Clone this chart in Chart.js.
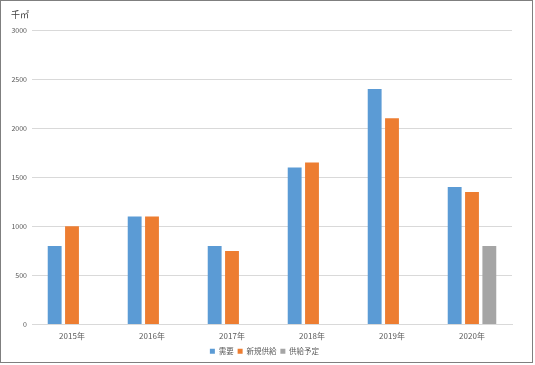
<!DOCTYPE html>
<html>
<head>
<meta charset="utf-8">
<script src="https://cdn.jsdelivr.net/npm/chart.js@4"></script>
<style>
  body { margin: 0; background: #fff; }
  #wrap { position: absolute; left: 0; top: 0; width: 531px; height: 361px; border: 1px solid #7f7f7f; overflow: hidden; }
</style>
</head>
<body>
<div id="wrap"><canvas id="myChart" width="531" height="364"></canvas></div>
<script>
let years = ["2015年", "2016年", "2017年", "2018年", "2019年", "2020年"];
let demand = [800, 1100, 800, 1600, 2400, 1400];
let newSupply = [1000, 1100, 750, 1650, 2100, 1350];
let plannedSupply = [null, null, null, null, null, 800];
let yTicks = [0, 500, 1000, 1500, 2000, 2500, 3000];

let font = "'Noto Sans CJK JP', 'Noto Sans', sans-serif";

// unit label in the top left corner, legend nudged to the page centre
let extras = {
  id: "extras",
  afterLayout(chart) {
    chart.legend.left += 8;
    chart.legend.right += 8;
  },
  afterDraw(chart) {
    let c = chart.ctx;
    c.save();
    c.fillStyle = "#404040";
    c.font = "9px " + font;
    c.textBaseline = "middle";
    c.fillText("千㎡", 10, 14);
    c.restore();
  },
};

let ctx = document.getElementById("myChart").getContext("2d");
let myChart = new Chart(ctx, {
  type: "bar",
  data: {
    labels: years,
    datasets: [
      { label: "需要", backgroundColor: "#5b9bd5", data: demand },
      { label: "新規供給", backgroundColor: "#ed7d31", data: newSupply },
      { label: "供給予定", backgroundColor: "#a5a5a5", data: plannedSupply },
    ],
  },
  options: {
    responsive: false,
    animation: false,
    layout: { padding: { top: 29, right: 20, left: 0, bottom: 0 } },
    datasets: { bar: { categoryPercentage: 0.65, barPercentage: 0.8 } },
    plugins: {
      tooltip: { enabled: false },
      legend: {
        position: "bottom",
        labels: {
          usePointStyle: true,
          pointStyle: "rect",
          boxWidth: 5,
          boxHeight: 5,
          padding: 4,
          color: "#595959",
          font: { family: font, size: 7.5 },
        },
      },
    },
    scales: {
      x: {
        grid: { display: false, drawTicks: false },
        border: { color: "#d9d9d9" },
        ticks: { color: "#595959", padding: 7, font: { family: font, size: 8 } },
        afterFit(s) { s.height = 19; },
      },
      y: {
        min: 0,
        max: 3000,
        afterBuildTicks(s) { s.ticks = yTicks.map(v => ({ value: v })); },
        grid: { color: "#d9d9d9", drawTicks: false },
        border: { display: false },
        ticks: {
          color: "#595959",
          padding: 5,
          font: { family: font, size: 7 },
          callback: v => String(v),
        },
        afterFit(s) { s.width = 31; },
      },
    },
  },
  plugins: [extras],
});
</script>
</body>
</html>
